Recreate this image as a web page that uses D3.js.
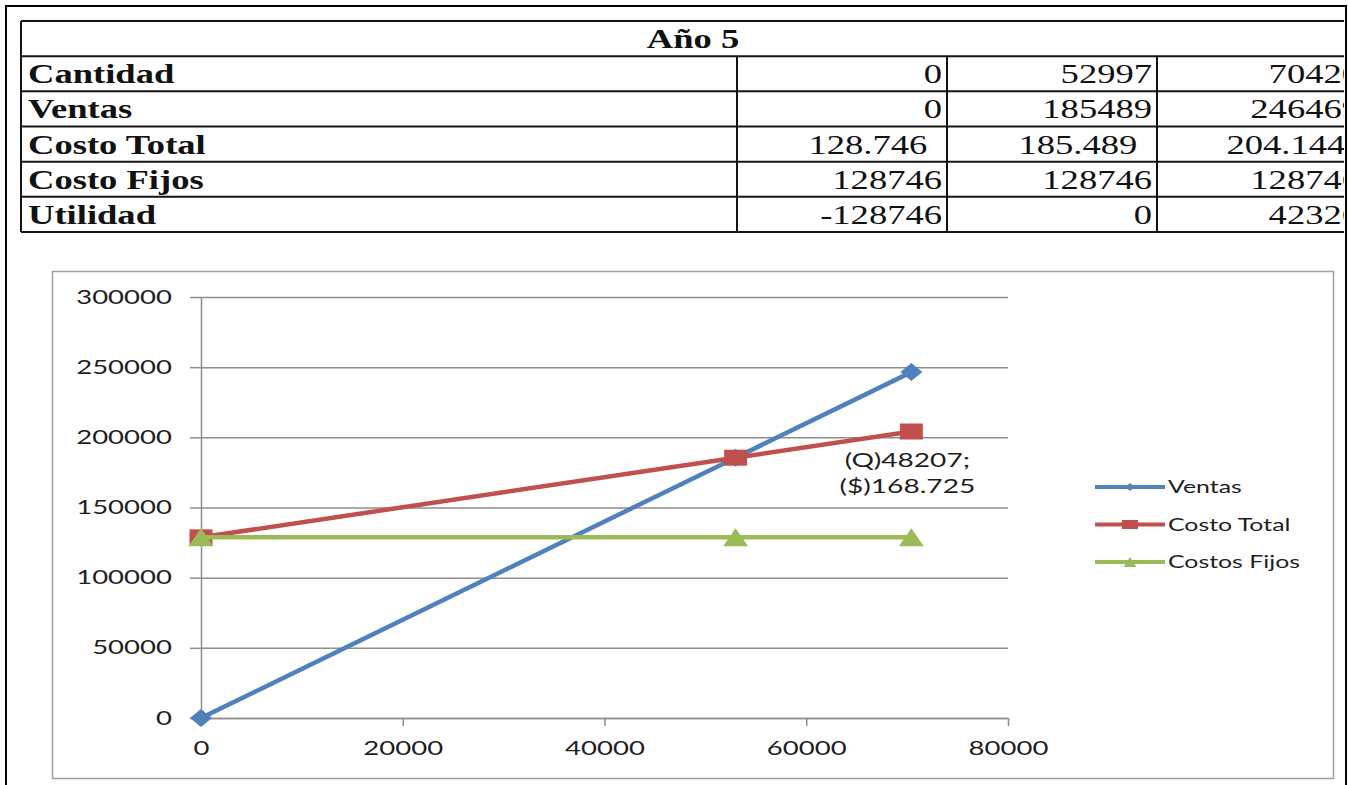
<!DOCTYPE html>
<html>
<head>
<meta charset="utf-8">
<script src="https://cdn.jsdelivr.net/npm/d3@7"></script>
<style>
  html, body { margin: 0; padding: 0; background: #fff; }
  svg { display: block; }
</style>
</head>
<body>
<svg id="chart" width="1348" height="785"></svg>
<script>
// ---- Table data (Año 5) ----
const tableTitle = "Año 5";
const rowLabels = ["Cantidad", "Ventas", "Costo Total", "Costo Fijos", "Utilidad"];
const colPuntoCero = ["0", "0", "128.746 ", "128746", "-128746"];
const colEquilibrio = ["52997", "185489", "185.489 ", "128746", "0"];
const colMaximo = ["70420", "246469", "204.144 ", "128746", "42326"];

// ---- Chart data ----
const cantidades = [0, 52997, 70420];
const ventas = [0, 185489, 246469];
const costoTotal = [128746, 185489, 204144];
const costosFijos = [128746, 128746, 128746];
const seriesNames = ["Ventas", "Costo Total", "Costos Fijos"];
const yTicks = [0, 50000, 100000, 150000, 200000, 250000, 300000];
const xTicks = [0, 20000, 40000, 60000, 80000];
const etiquetaEquilibrio = ["(Q)48207;", "($)168.725"];

const svg = d3.select("#chart");

// horizontally widened text helper
function wideText(parent, x, y, str, sx) {
  return parent.append("text")
    .attr("transform", `translate(${x},${y}) scale(${sx},1)`)
    .style("white-space", "pre")
    .text(str);
}

// ================= TABLE =================
const tSx = 1.38;
const tCols = [21, 737, 947, 1157, 1365];
const tTop = 21, tRowH = 35.17;
const nRows = rowLabels.length + 1;

svg.append("defs").append("clipPath").attr("id", "tclip")
  .append("rect").attr("x", 0).attr("y", 0).attr("width", 1344).attr("height", 260);

const tg = svg.append("g").attr("clip-path", "url(#tclip)");
const rowY = d3.range(nRows + 1).map(i => tTop + i * tRowH);

tg.selectAll("line.h").data(rowY).join("line")
  .attr("x1", tCols[0]).attr("x2", tCols[4])
  .attr("y1", d => d).attr("y2", d => d)
  .attr("stroke", "#141414").attr("stroke-width", 2);

tg.selectAll("line.v").data(tCols).join("line")
  .attr("x1", d => d).attr("x2", d => d)
  .attr("y1", (d, i) => (i === 0 || i === 4) ? rowY[0] : rowY[1])
  .attr("y2", rowY[nRows])
  .attr("stroke", "#141414").attr("stroke-width", 2);

const tText = tg.append("g")
  .attr("font-family", "'Liberation Serif', 'Times New Roman', serif")
  .attr("font-size", 26.5).attr("fill", "#111");

wideText(tText, (tCols[0] + tCols[4]) / 2, rowY[0] + 27, tableTitle, tSx)
  .attr("text-anchor", "middle").attr("font-weight", "bold");

rowLabels.forEach((lab, i) => {
  const base = rowY[i + 1] + 27;
  wideText(tText, 28, base, lab, tSx).attr("font-weight", "bold");
  [colPuntoCero, colEquilibrio, colMaximo].forEach((col, j) => {
    wideText(tText, tCols[j + 2] - 5, base, col[i], tSx)
      .attr("text-anchor", "end")
      .attr("dx", col[i].endsWith(" ") ? -4 : 0);
  });
});

// ================= CHART =================
const cSx = 1.45;
const fontFam = "Lato, 'Open Sans', sans-serif";
const fontSize = 19;
const gridColor = "#8e8e8e";

// chart area border
svg.append("rect")
  .attr("x", 52.5).attr("y", 271.5).attr("width", 1281).attr("height", 507)
  .attr("fill", "none").attr("stroke", "#a0a0a0").attr("stroke-width", 1.5);

const x = d3.scaleLinear().domain([0, 80000]).range([201, 1008]);
const y = d3.scaleLinear().domain([0, 300000]).range([718, 297]);

function widenTicks(g) {
  g.selectAll(".tick text").each(function () {
    const t = d3.select(this);
    const tx = +t.attr("x") || 0, ty = +t.attr("y") || 0;
    t.attr("x", null).attr("y", null)
      .attr("transform", `translate(${tx},${ty}) scale(${cSx},1)`)
      .attr("fill", "#1e1e1e");
  });
  g.attr("font-family", fontFam).attr("font-size", fontSize).attr("color", gridColor);
  g.selectAll("line, path").attr("stroke-width", 1.5);
}

// horizontal gridlines
svg.append("g").attr("transform", `translate(${x(0)},0)`)
  .call(d3.axisLeft(y).tickValues(yTicks).tickSize(-(x(80000) - x(0))).tickFormat(""))
  .call(g => g.select(".domain").remove())
  .call(g => g.attr("color", gridColor).selectAll("line").attr("stroke-width", 1.5));

// y axis
svg.append("g").attr("transform", `translate(${x(0)},0)`)
  .call(d3.axisLeft(y).tickValues(yTicks).tickSize(11).tickSizeOuter(0).tickPadding(18).tickFormat(d3.format("d")))
  .call(widenTicks);

// x axis
svg.append("g").attr("transform", `translate(0,${y(0)})`)
  .call(d3.axisBottom(x).tickValues(xTicks).tickSize(8).tickSizeOuter(0).tickPadding(16).tickFormat(d3.format("d")))
  .call(widenTicks);

// marker shapes (w = half width, h = half height)
const markerShapes = {
  diamond: (w, h) => `M0,${-h}L${w},0L0,${h}L${-w},0Z`,
  square: (w, h) => `M${-w},${-h}H${w}V${h}H${-w}Z`,
  triangle: (w, h) => `M0,${-h}L${w},${h}H${-w}Z`
};

const series = [
  { name: seriesNames[0], values: ventas, color: "#4F81BD", marker: "diamond", mw: 11, mh: 9, lw: 4.5, lh: 4 },
  { name: seriesNames[1], values: costoTotal, color: "#C0504D", marker: "square", mw: 11.5, mh: 8, lw: 8, lh: 4.5 },
  { name: seriesNames[2], values: costosFijos, color: "#9BBB59", marker: "triangle", mw: 12.5, mh: 9, lw: 6.5, lh: 5 }
];

const line = d3.line().x(d => x(d.q)).y(d => y(d.v));

series.forEach(s => {
  const pts = cantidades.map((q, i) => ({ q, v: s.values[i] }));
  const g = svg.append("g");
  g.append("path").datum(pts).attr("d", line)
    .attr("fill", "none").attr("stroke", s.color).attr("stroke-width", 4.5)
    .attr("stroke-linejoin", "round");
  g.selectAll("path.m").data(pts).join("path")
    .attr("d", markerShapes[s.marker](s.mw, s.mh))
    .attr("transform", d => `translate(${x(d.q)},${y(d.v)})`)
    .attr("fill", s.color);
});

// break-even label next to the last total-cost point
const lblG = svg.append("g").attr("font-family", fontFam).attr("font-size", fontSize).attr("fill", "#1e1e1e");
etiquetaEquilibrio.forEach((t, i) => {
  wideText(lblG, x(cantidades[2]) - 4, y(costoTotal[2]) + 35 + i * 26, t, cSx + 0.03).attr("text-anchor", "middle");
});

// legend
const legend = svg.append("g").attr("font-family", fontFam).attr("font-size", 17.5).attr("fill", "#1e1e1e");
series.forEach((s, i) => {
  const ly = 487 + i * 37.5;
  legend.append("line").attr("x1", 1095).attr("x2", 1165).attr("y1", ly).attr("y2", ly)
    .attr("stroke", s.color).attr("stroke-width", 4);
  legend.append("path").attr("d", markerShapes[s.marker](s.lw, s.lh))
    .attr("transform", `translate(1130,${ly})`).attr("fill", s.color);
  wideText(legend, 1168, ly, s.name, 1.42).attr("dy", "0.36em");
});

// outer frame
svg.append("rect").attr("x", 6).attr("y", 6).attr("width", 1340).attr("height", 800)
  .attr("fill", "none").attr("stroke", "#000").attr("stroke-width", 2);
</script>
</body>
</html>
